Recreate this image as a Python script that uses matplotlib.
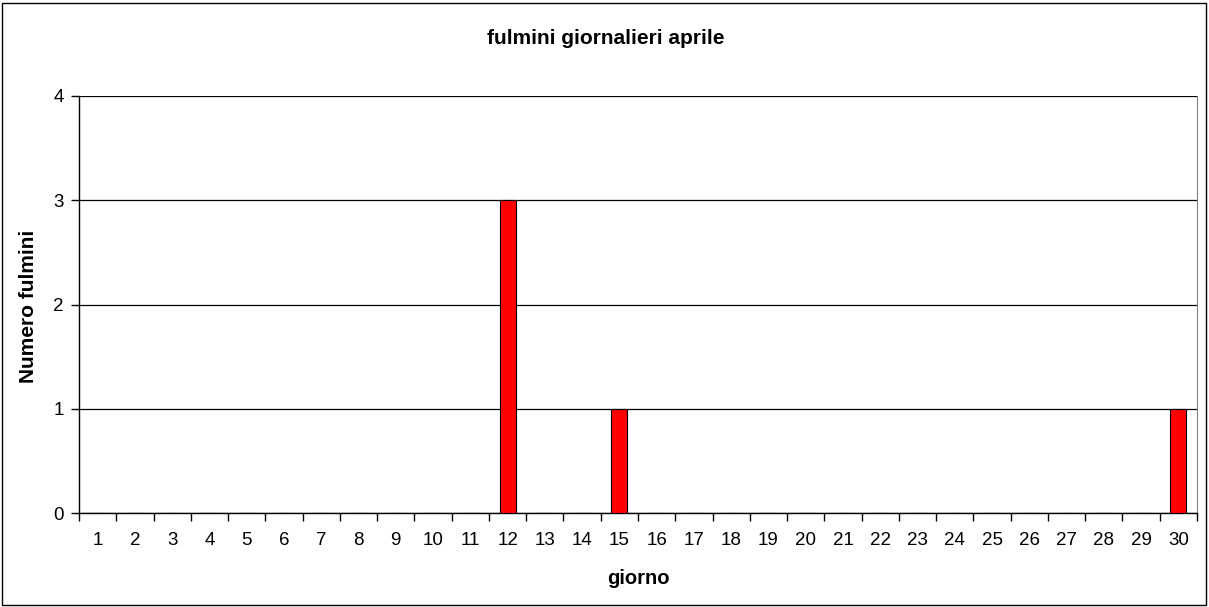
import matplotlib
matplotlib.use("Agg")
import matplotlib.pyplot as plt
from matplotlib.patches import Rectangle

days = [str(d) for d in range(1, 31)]
counts = [0]*30
counts[11] = 3
counts[14] = 1
counts[29] = 1
yticks = [0, 1, 2, 3, 4]

plt.rcParams['font.family'] = ['Liberation Sans', 'DejaVu Sans']

W, H = 1209, 607
fig = plt.figure(figsize=(W/100, H/100), dpi=100)
l, r, t, b = 79, 1197, 96, 513
ax = fig.add_axes([l/W, 1-b/H, (r-l)/W, (b-t)/H])

x = list(range(len(days)))
ax.bar(x, counts, width=0.43, color='#ff0000', edgecolor='#000000', linewidth=0.8, zorder=3)
ax.set_xlim(-0.5, len(days)-0.5)
ax.set_ylim(0, 4)
ax.set_yticks(yticks)
ax.set_yticklabels([str(v) for v in yticks], fontsize=13.5)
ax.set_xticks(x)
ax.set_xticklabels(days, fontsize=13.5)
ax.set_xticks([i-0.5 for i in range(len(days)+1)], minor=True)
ax.tick_params(axis='x', which='major', length=0, pad=14)
ax.tick_params(axis='x', which='minor', length=6, width=1, color='#000000', direction='out')
ax.tick_params(axis='y', length=6, width=1, direction='out', pad=5)
ax.yaxis.grid(True, color='#000000', linewidth=0.9, zorder=1)
ax.set_axisbelow(True)
ax.spines['top'].set_visible(False)
ax.spines['right'].set_color('#808080')
ax.spines['left'].set_linewidth(1)
ax.spines['bottom'].set_linewidth(1)

fig.text(606/W, 1-38/H, 'fulmini giornalieri aprile', ha='center', va='center', fontsize=15, fontweight='bold')
fig.text(29/W, 1-306/H, 'Numero fulmini', ha='center', va='center', rotation=90, fontsize=15, fontweight='bold')
fig.text(638/W, 1-578/H, 'giorno', ha='center', va='center', fontsize=14.5, fontweight='bold')

fig.patches.append(Rectangle((2/W, 2/H), (W-5)/W, (H-5)/H, transform=fig.transFigure,
                             fill=False, edgecolor='#000000', linewidth=1))

fig.savefig('out.png', dpi=100)
